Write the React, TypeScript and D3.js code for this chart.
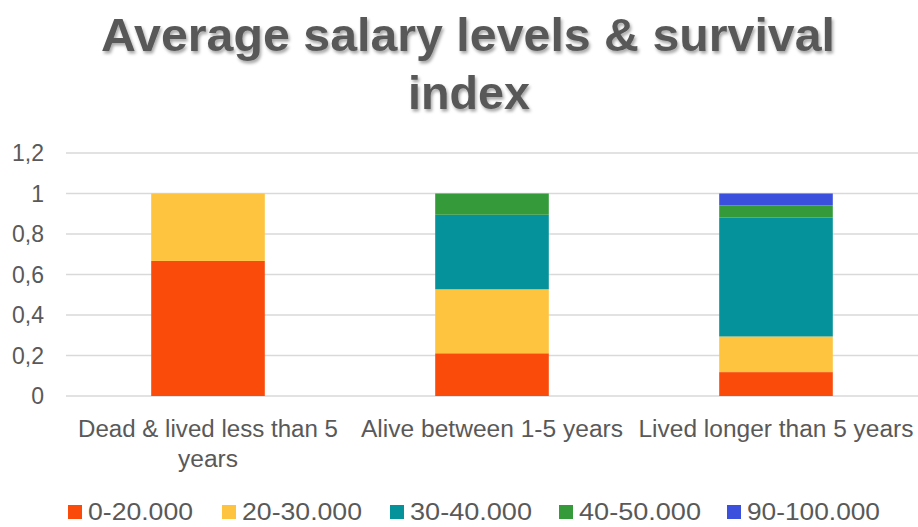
import * as React from "react";
import { scaleBand, scaleLinear, stack } from "d3";

const categories = ["Dead & lived less than 5 years", "Alive between 1-5 years", "Lived longer than 5 years"];
const categoryLines = [["Dead & lived less than 5", "years"], ["Alive between 1-5 years"], ["Lived longer than 5 years"]];
const seriesNames = ["0-20.000", "20-30.000", "30-40.000", "40-50.000", "90-100.000"];
const seriesColors = ["#fa4b0a", "#fec440", "#05929a", "#359b3a", "#3c50de"];
const v0to20 = [0.667, 0.211, 0.118];
const v20to30 = [0.333, 0.316, 0.176];
const v30to40 = [0, 0.368, 0.588];
const v40to50 = [0, 0.105, 0.059];
const v90to100 = [0, 0, 0.059];
const yTicks = [0, 0.2, 0.4, 0.6, 0.8, 1, 1.2];

const W = 918;
const H = 527;
const margin = { left: 66, right: 0, top: 153, bottom: 131 };
const font = "'Liberation Sans', Arial, sans-serif";

// measured label widths so the text spans the same room as the original
const catLineWidths = [[260, 60], [262], [275]];
const legendX = [68, 222, 390, 559, 727];
const legendTextW = [105, 120, 122, 122, 133];

export default function App() {
  const rows = categories.map((c, i) => ({
    cat: c,
    [seriesNames[0]]: v0to20[i],
    [seriesNames[1]]: v20to30[i],
    [seriesNames[2]]: v30to40[i],
    [seriesNames[3]]: v40to50[i],
    [seriesNames[4]]: v90to100[i],
  }));
  const stacked = stack<any>().keys(seriesNames)(rows);

  const xScale = scaleBand().domain(categories).range([margin.left, W - margin.right]).paddingInner(0.6).paddingOuter(0.3);
  const yScale = scaleLinear().domain([0, 1.2]).range([H - margin.bottom, margin.top]);

  return (
    <svg width={W} height={H} style={{ position: "absolute", left: 0, top: 0, background: "#fff" }}>
      <defs>
        <filter id="sh" x="-10%" y="-20%" width="120%" height="150%">
          <feDropShadow dx="1.5" dy="2.5" stdDeviation="1.5" floodColor="#000" floodOpacity="0.35" />
        </filter>
      </defs>
      <g fontFamily={font} fontWeight="bold" fill="#595959" textAnchor="middle" filter="url(#sh)">
        <text x={468} y={51} fontSize={47} textLength={734} lengthAdjust="spacingAndGlyphs">Average salary levels &amp; survival</text>
        <text x={469} y={109} fontSize={47} textLength={122} lengthAdjust="spacingAndGlyphs">index</text>
      </g>
      {yTicks.map((t) => (
        <g key={t}>
          <line x1={margin.left} x2={W - margin.right} y1={yScale(t)} y2={yScale(t)} stroke="#d9d9d9" strokeWidth={1.5} />
          <text x={44} y={yScale(t)} dy="0.35em" textAnchor="end" fontFamily={font} fontSize={23} fill="#595959">
            {String(t).replace(".", ",")}
          </text>
        </g>
      ))}
      {stacked.map((s, si) => (
        <g key={s.key} fill={seriesColors[si]}>
          {s.map((d, i) => (
            <rect key={i} x={xScale(categories[i])} width={xScale.bandwidth()} y={yScale(d[1])} height={Math.max(0, yScale(d[0]) - yScale(d[1]))} />
          ))}
        </g>
      ))}
      {categories.map((c, i) => (
        <g key={c}>
          {categoryLines[i].map((l, li) => (
            <text key={li} x={(xScale(c) as number) + xScale.bandwidth() / 2} y={437 + li * 30} textAnchor="middle"
              fontFamily={font} fontSize={23} fill="#595959" textLength={catLineWidths[i][li]} lengthAdjust="spacingAndGlyphs">{l}</text>
          ))}
        </g>
      ))}
      {seriesNames.map((n, i) => (
        <g key={n} transform={`translate(${legendX[i]},512)`}>
          <rect x={0} y={-7} width={14} height={14} fill={seriesColors[i]} />
          <text x={20} y={0} dy="0.36em" fontFamily={font} fontSize={23} fill="#595959"
            textLength={legendTextW[i]} lengthAdjust="spacingAndGlyphs">{n}</text>
        </g>
      ))}
    </svg>
  );
}
